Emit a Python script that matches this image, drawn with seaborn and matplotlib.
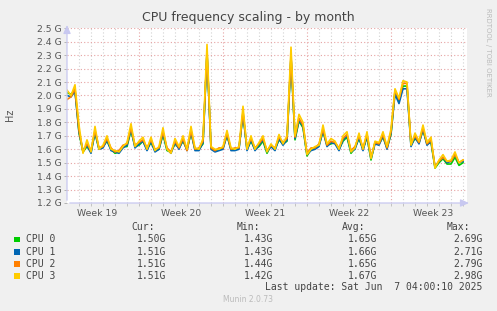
import numpy as np
import pandas as pd
import matplotlib
matplotlib.use("Agg")
import matplotlib.pyplot as plt
import seaborn as sns

# ---- data (8-hour samples, starting at day 0 of the window) ----
cpu_names = ["CPU 0", "CPU 1", "CPU 2", "CPU 3"]
cpu_colors = ["#00CC00", "#0066B3", "#FF8000", "#FFCC00"]

cpu0 = [2.02, 2.01, 2.04, 1.72, 1.58, 1.62, 1.58, 1.72, 1.60, 1.62,
        1.66, 1.60, 1.57, 1.58, 1.62, 1.62, 1.74, 1.62, 1.63, 1.66,
        1.60, 1.65, 1.59, 1.60, 1.71, 1.59, 1.58, 1.64, 1.61, 1.66,
        1.60, 1.72, 1.60, 1.60, 1.64, 2.31, 1.61, 1.59, 1.60, 1.61,
        1.70, 1.60, 1.60, 1.61, 1.86, 1.60, 1.66, 1.60, 1.62, 1.66,
        1.57, 1.63, 1.60, 1.67, 1.64, 1.66, 2.28, 1.67, 1.81, 1.76,
        1.55, 1.60, 1.61, 1.63, 1.73, 1.63, 1.64, 1.65, 1.60, 1.66,
        1.69, 1.57, 1.61, 1.68, 1.60, 1.69, 1.52, 1.65, 1.64, 1.69,
        1.61, 1.71, 2.03, 1.96, 2.07, 2.07, 1.63, 1.68, 1.65, 1.74,
        1.64, 1.65, 1.46, 1.50, 1.53, 1.49, 1.49, 1.54, 1.48, 1.50]
cpu1 = [2.00, 1.99, 2.03, 1.73, 1.59, 1.63, 1.57, 1.73, 1.60, 1.61,
        1.67, 1.59, 1.58, 1.57, 1.61, 1.63, 1.75, 1.61, 1.64, 1.66,
        1.59, 1.66, 1.58, 1.60, 1.72, 1.60, 1.57, 1.65, 1.60, 1.67,
        1.59, 1.73, 1.59, 1.59, 1.65, 2.32, 1.60, 1.58, 1.59, 1.60,
        1.71, 1.59, 1.59, 1.60, 1.87, 1.59, 1.67, 1.59, 1.63, 1.67,
        1.58, 1.62, 1.59, 1.68, 1.63, 1.67, 2.29, 1.68, 1.82, 1.77,
        1.56, 1.59, 1.60, 1.62, 1.74, 1.62, 1.65, 1.64, 1.59, 1.67,
        1.70, 1.58, 1.60, 1.69, 1.59, 1.70, 1.53, 1.64, 1.63, 1.70,
        1.60, 1.72, 2.01, 1.94, 2.05, 2.05, 1.62, 1.69, 1.64, 1.75,
        1.63, 1.66, 1.47, 1.51, 1.54, 1.50, 1.51, 1.56, 1.50, 1.51]
cpu2 = [1.97, 1.99, 2.05, 1.74, 1.58, 1.64, 1.59, 1.74, 1.61, 1.62,
        1.68, 1.61, 1.58, 1.59, 1.63, 1.64, 1.76, 1.63, 1.65, 1.67,
        1.61, 1.67, 1.60, 1.61, 1.73, 1.61, 1.58, 1.66, 1.61, 1.68,
        1.59, 1.74, 1.60, 1.61, 1.66, 2.33, 1.61, 1.59, 1.61, 1.61,
        1.72, 1.60, 1.61, 1.61, 1.88, 1.61, 1.68, 1.61, 1.64, 1.68,
        1.59, 1.63, 1.61, 1.69, 1.65, 1.68, 2.30, 1.69, 1.83, 1.78,
        1.57, 1.61, 1.61, 1.64, 1.75, 1.63, 1.66, 1.65, 1.61, 1.68,
        1.71, 1.59, 1.62, 1.70, 1.61, 1.71, 1.54, 1.65, 1.64, 1.71,
        1.61, 1.73, 2.04, 1.97, 2.09, 2.09, 1.64, 1.70, 1.65, 1.76,
        1.64, 1.67, 1.47, 1.51, 1.54, 1.51, 1.51, 1.56, 1.50, 1.52]
cpu3 = [2.04, 2.00, 2.08, 1.78, 1.57, 1.67, 1.58, 1.77, 1.60, 1.63,
        1.70, 1.60, 1.59, 1.58, 1.62, 1.65, 1.79, 1.62, 1.66, 1.69,
        1.60, 1.69, 1.59, 1.62, 1.76, 1.60, 1.57, 1.68, 1.62, 1.70,
        1.60, 1.77, 1.61, 1.60, 1.68, 2.38, 1.62, 1.60, 1.60, 1.62,
        1.74, 1.61, 1.60, 1.62, 1.92, 1.60, 1.70, 1.60, 1.65, 1.70,
        1.58, 1.64, 1.60, 1.71, 1.64, 1.70, 2.36, 1.70, 1.86, 1.80,
        1.56, 1.60, 1.62, 1.63, 1.78, 1.64, 1.68, 1.66, 1.60, 1.70,
        1.73, 1.58, 1.61, 1.72, 1.60, 1.73, 1.53, 1.66, 1.65, 1.73,
        1.62, 1.75, 2.05, 1.98, 2.11, 2.10, 1.63, 1.72, 1.66, 1.78,
        1.65, 1.69, 1.46, 1.52, 1.56, 1.51, 1.52, 1.58, 1.50, 1.52]

week_labels = ["Week 19", "Week 20", "Week 21", "Week 22", "Week 23"]
week_centers = [2.5, 9.5, 16.5, 23.5, 30.5]
week_bounds = [6, 13, 20, 27]
y_ticks = [1.2, 1.3, 1.4, 1.5, 1.6, 1.7, 1.8, 1.9, 2.0, 2.1, 2.2, 2.3, 2.4, 2.5]

stat_cur = ["1.50G", "1.51G", "1.51G", "1.51G"]
stat_min = ["1.43G", "1.43G", "1.44G", "1.42G"]
stat_avg = ["1.65G", "1.66G", "1.65G", "1.67G"]
stat_max = ["2.69G", "2.71G", "2.79G", "2.98G"]

# ---- build long-form table ----
series = [cpu0, cpu1, cpu2, cpu3]
rows = []
for name, vals in zip(cpu_names, series):
    for i, v in enumerate(vals):
        rows.append({"day": i / 3.0, "freq": v, "cpu": name})
df = pd.DataFrame(rows)

W, H = 497, 311
fig = plt.figure(figsize=(W / 100, H / 100), dpi=100, facecolor="#F0F0F0")
ax_l, ax_r, ax_t, ax_b = 67, 467, 28.3, 203
ax = fig.add_axes([ax_l / W, 1 - ax_b / H, (ax_r - ax_l) / W, (ax_b - ax_t) / H])
ax.set_facecolor("white")

xmax = 100 / 3.0
ax.set_xlim(0, xmax)
ax.set_ylim(1.2, 2.5)

# grid
dot = (0, (1, 2))
for d in range(1, 34):
    if d in week_bounds:
        continue
    ax.axvline(d, color="#D2D2D2", lw=0.8, ls=dot, zorder=0)
for d in week_bounds:
    ax.axvline(d, color="#E6A3A3", lw=0.8, ls=dot, zorder=0)
for v in y_ticks[1:]:
    ax.axhline(v, color="#E6A3A3", lw=0.8, ls=dot, zorder=0)

sns.lineplot(data=df, x="day", y="freq", hue="cpu", hue_order=cpu_names,
             palette=cpu_colors, lw=1.2, legend=False, ax=ax, zorder=3)

for s in ax.spines.values():
    s.set_visible(False)

# axes lines with arrows
axis_col = "#C8C8F0"
ax.annotate("", xy=(1.012, 0), xytext=(0, 0), xycoords="axes fraction",
            arrowprops=dict(arrowstyle="-|>,head_length=0.5,head_width=0.22",
                            color=axis_col, lw=0.9), annotation_clip=False)
ax.annotate("", xy=(0, 1.035), xytext=(0, 0), xycoords="axes fraction",
            arrowprops=dict(arrowstyle="-|>,head_length=0.5,head_width=0.22",
                            color=axis_col, lw=0.9), annotation_clip=False)

ax.set_yticks(y_ticks)
ax.set_yticklabels([f"{v:.1f} G" for v in y_ticks])
ax.set_xticks(week_centers)
ax.set_xticklabels(week_labels)
ax.set_xticks(list(range(1, 34)), minor=True)
ax.tick_params(axis="y", which="major", length=2.5, width=0.6, color="#AAAAAA",
               labelsize=6.7, labelcolor="#555555", pad=1.5)
ax.tick_params(axis="x", which="major", length=0, labelsize=6.7,
               labelcolor="#555555", pad=4)
ax.tick_params(axis="x", which="minor", length=1.8, width=0.6, color="#BBBBBB")
ax.set_xlabel("")
ax.set_ylabel("")

# texts
fig.text(0.5, 1 - 18 / H, "CPU frequency scaling - by month", ha="center",
         va="center", fontsize=9, color="#444444")
fig.text(10 / W, 1 - 115 / H, "Hz", rotation=90, ha="center", va="center",
         fontsize=7, color="#555555")
fig.text(488 / W, 1 - 52 / H, "RRDTOOL / TOBI OETIKER", rotation=270,
         ha="center", va="center", fontsize=5, color="#BBBBBB")

mono = "DejaVu Sans Mono"
tc = "#444444"
fs = 7
hy = 227
fig.text(131.7 / W, 1 - hy / H, "Cur:", family=mono, fontsize=fs, color=tc,
         va="center", ha="left")
fig.text(236.7 / W, 1 - hy / H, "Min:", family=mono, fontsize=fs, color=tc,
         va="center", ha="left")
fig.text(342 / W, 1 - hy / H, "Avg:", family=mono, fontsize=fs, color=tc,
         va="center", ha="left")
fig.text(447 / W, 1 - hy / H, "Max:", family=mono, fontsize=fs, color=tc,
         va="center", ha="left")
row_y = [239.5, 251.7, 264, 276]
for k in range(4):
    yy = 1 - row_y[k] / H
    fig.patches.append(plt.Rectangle((14 / W, yy - 2.8 / H), 5.5 / W, 5.5 / H,
                                     transform=fig.transFigure,
                                     color=cpu_colors[k], lw=0))
    fig.text(26 / W, yy, cpu_names[k], family=mono, fontsize=fs, color=tc,
             va="center", ha="left")
    fig.text(166.7 / W, yy, stat_cur[k], family=mono, fontsize=fs, color=tc,
             va="center", ha="right")
    fig.text(273 / W, yy, stat_min[k], family=mono, fontsize=fs, color=tc,
             va="center", ha="right")
    fig.text(377.7 / W, yy, stat_avg[k], family=mono, fontsize=fs, color=tc,
             va="center", ha="right")
    fig.text(482.7 / W, yy, stat_max[k], family=mono, fontsize=fs, color=tc,
             va="center", ha="right")
fig.text(482.7 / W, 1 - 287.5 / H, "Last update: Sat Jun  7 04:00:10 2025",
         family=mono, fontsize=fs, color=tc, va="center", ha="right")
fig.text(248 / W, 1 - 300 / H, "Munin 2.0.73", fontsize=5.5, color="#BBBBBB",
         va="center", ha="center")

fig.savefig("out.png", dpi=100, facecolor=fig.get_facecolor())
